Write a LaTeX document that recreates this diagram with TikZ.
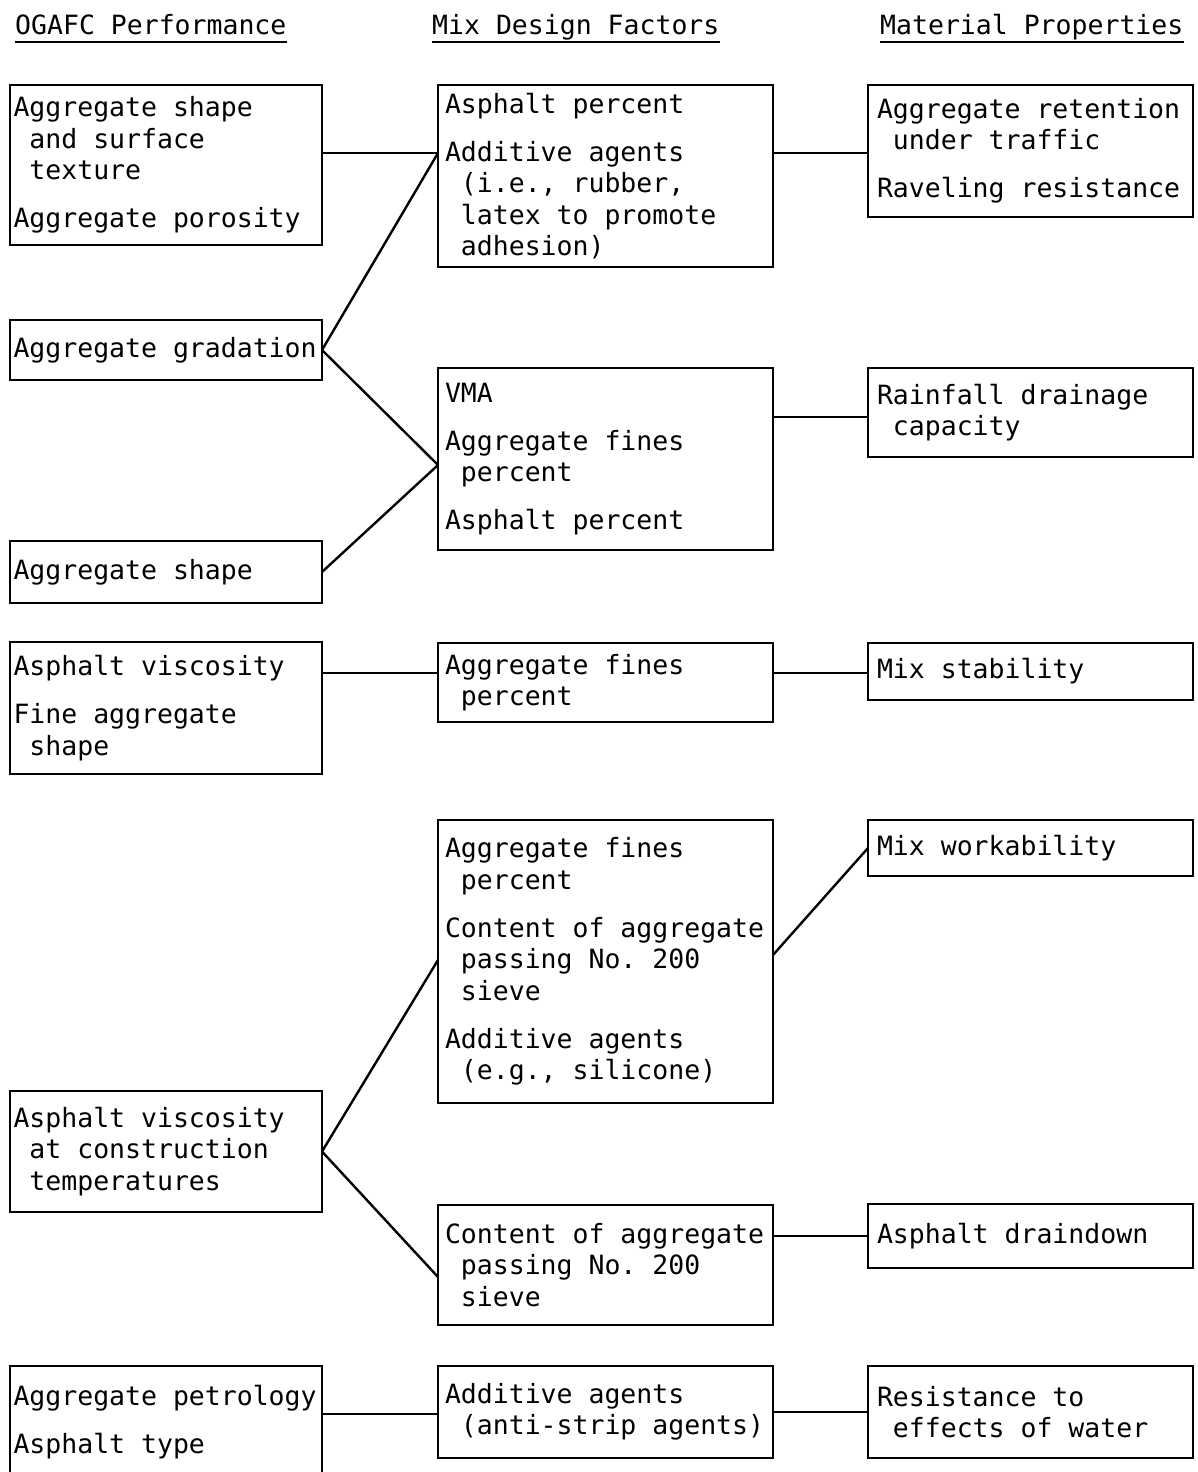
\documentclass[tikz,border=0pt]{standalone}
\usepackage{fontspec}
\setmainfont{DejaVu Sans Mono}[WordSpace={1,0,0},PunctuationSpace=WordSpace]
\frenchspacing
\newcommand\myind{\phantom{a}}
\begin{document}
\begin{tikzpicture}[x=1pt,y=-1pt,
  txtfont/.style={font=\fontsize{26.5}{31.5}\selectfont\frenchspacing},
  box/.style={draw, line width=2.8pt, rectangle, anchor=north west, outer sep=0pt,
    inner ysep=0pt, align=left, txtfont,
    execute at begin node={\spaceskip=0pt\xspaceskip=0pt\relax}},
  lbox/.style={box, inner xsep=3.5pt, text width=305pt, minimum width=312pt},
  mbox/.style={box, inner xsep=7pt, text width=321pt, minimum width=335pt},
  rbox/.style={box, inner xsep=9pt, text width=307pt, minimum width=325pt},
  hdr/.style={anchor=base west, inner sep=0pt, txtfont},
  uline/.style={line width=2.4pt},
  conn/.style={line width=2.4pt}]
\useasboundingbox (0,0) rectangle (1197,1472);
\clip (0,0) rectangle (1197,1472);

% headers
\node[hdr] (h1) at (15,35) {OGAFC Performance};
\node[hdr] (h2) at (432,35) {Mix Design Factors};
\node[hdr] (h3) at (880,35) {Material Properties};
\draw[uline] ([yshift=-7pt]h1.base west) -- ([yshift=-7pt]h1.base east);
\draw[uline] ([yshift=-7pt]h2.base west) -- ([yshift=-7pt]h2.base east);
\draw[uline] ([yshift=-7pt]h3.base west) -- ([yshift=-7pt]h3.base east);

% left column
\node[lbox, minimum height=160pt] (a1) at (10,85)
  {Aggregate shape\\ \myind and surface\\ \myind texture\\[16.5pt]Aggregate porosity};
\node[lbox, minimum height=60pt] (a2) at (10,320) {Aggregate gradation};
\node[lbox, minimum height=62pt] (a3) at (10,541) {Aggregate shape};
\node[lbox, minimum height=132pt] (a4) at (10,642)
  {Asphalt viscosity\\[16.5pt]Fine aggregate\\ \myind shape};
\node[lbox, minimum height=121pt] (a5) at (10,1091)
  {Asphalt viscosity\\ \myind at construction\\ \myind temperatures};
\node[lbox, minimum height=112pt] (a6) at (10,1366)
  {Aggregate petrology\\[16.5pt]Asphalt type};

% middle column
\node[mbox, minimum height=182pt] (m1) at (438,85)
  {Asphalt percent\\[16.5pt]Additive agents\\ \myind (i.e., rubber,\\ \myind latex to promote\\ \myind adhesion)};
\node[mbox, minimum height=182pt] (m2) at (438,368)
  {VMA\\[16.5pt]Aggregate fines\\ \myind percent\\[16.5pt]Asphalt percent};
\node[mbox, minimum height=79pt] (m3) at (438,643)
  {Aggregate fines\\ \myind percent};
\node[mbox, minimum height=283pt] (m4) at (438,820)
  {Aggregate fines\\ \myind percent\\[16.5pt]Content of aggregate\\ \myind passing No. 200\\ \myind sieve\\[16.5pt]Additive agents\\ \myind (e.g., silicone)};
\node[mbox, minimum height=120pt] (m5) at (438,1205)
  {Content of aggregate\\ \myind passing No. 200\\ \myind sieve};
\node[mbox, minimum height=92pt] (m6) at (438,1366)
  {Additive agents\\ \myind (anti-strip agents)};

% right column
\node[rbox, minimum height=132pt] (r1) at (868,85)
  {Aggregate retention\\ \myind under traffic\\[16.5pt]Raveling resistance};
\node[rbox, minimum height=89pt] (r2) at (868,368)
  {Rainfall drainage\\ \myind capacity};
\node[rbox, minimum height=57pt] (r3) at (868,643) {Mix stability};
\node[rbox, minimum height=56pt] (r4) at (868,820) {Mix workability};
\node[rbox, minimum height=64pt] (r5) at (868,1204) {Asphalt draindown};
\node[rbox, minimum height=92pt] (r6) at (868,1366)
  {Resistance to\\ \myind effects of water};

% connectors
\draw[conn] ([yshift=-68pt]a1.north east) -- ([yshift=-68pt]m1.north west);
\draw[conn] (a2.east) -- ([yshift=-68pt]m1.north west);
\draw[conn] (a2.east) -- ([yshift=-97pt]m2.north west);
\draw[conn] (a3.east) -- ([yshift=-97pt]m2.north west);
\draw[conn] ([yshift=-68pt]m1.north east) -- ([yshift=-68pt]r1.north west);
\draw[conn] ([yshift=-49pt]m2.north east) -- ([yshift=-49pt]r2.north west);
\draw[conn] ([yshift=-31pt]a4.north east) -- ([yshift=-30pt]m3.north west);
\draw[conn] ([yshift=-30pt]m3.north east) -- ([yshift=-30pt]r3.north west);
\draw[conn] (a5.east) -- ([yshift=-140pt]m4.north west);
\draw[conn] (a5.east) -- ([yshift=-72pt]m5.north west);
\draw[conn] ([yshift=-135pt]m4.north east) -- (r4.west);
\draw[conn] ([yshift=-31pt]m5.north east) -- ([yshift=-32pt]r5.north west);
\draw[conn] ([yshift=-48pt]a6.north east) -- ([yshift=-48pt]m6.north west);
\draw[conn] (m6.east) -- (r6.west);
\end{tikzpicture}
\end{document}
